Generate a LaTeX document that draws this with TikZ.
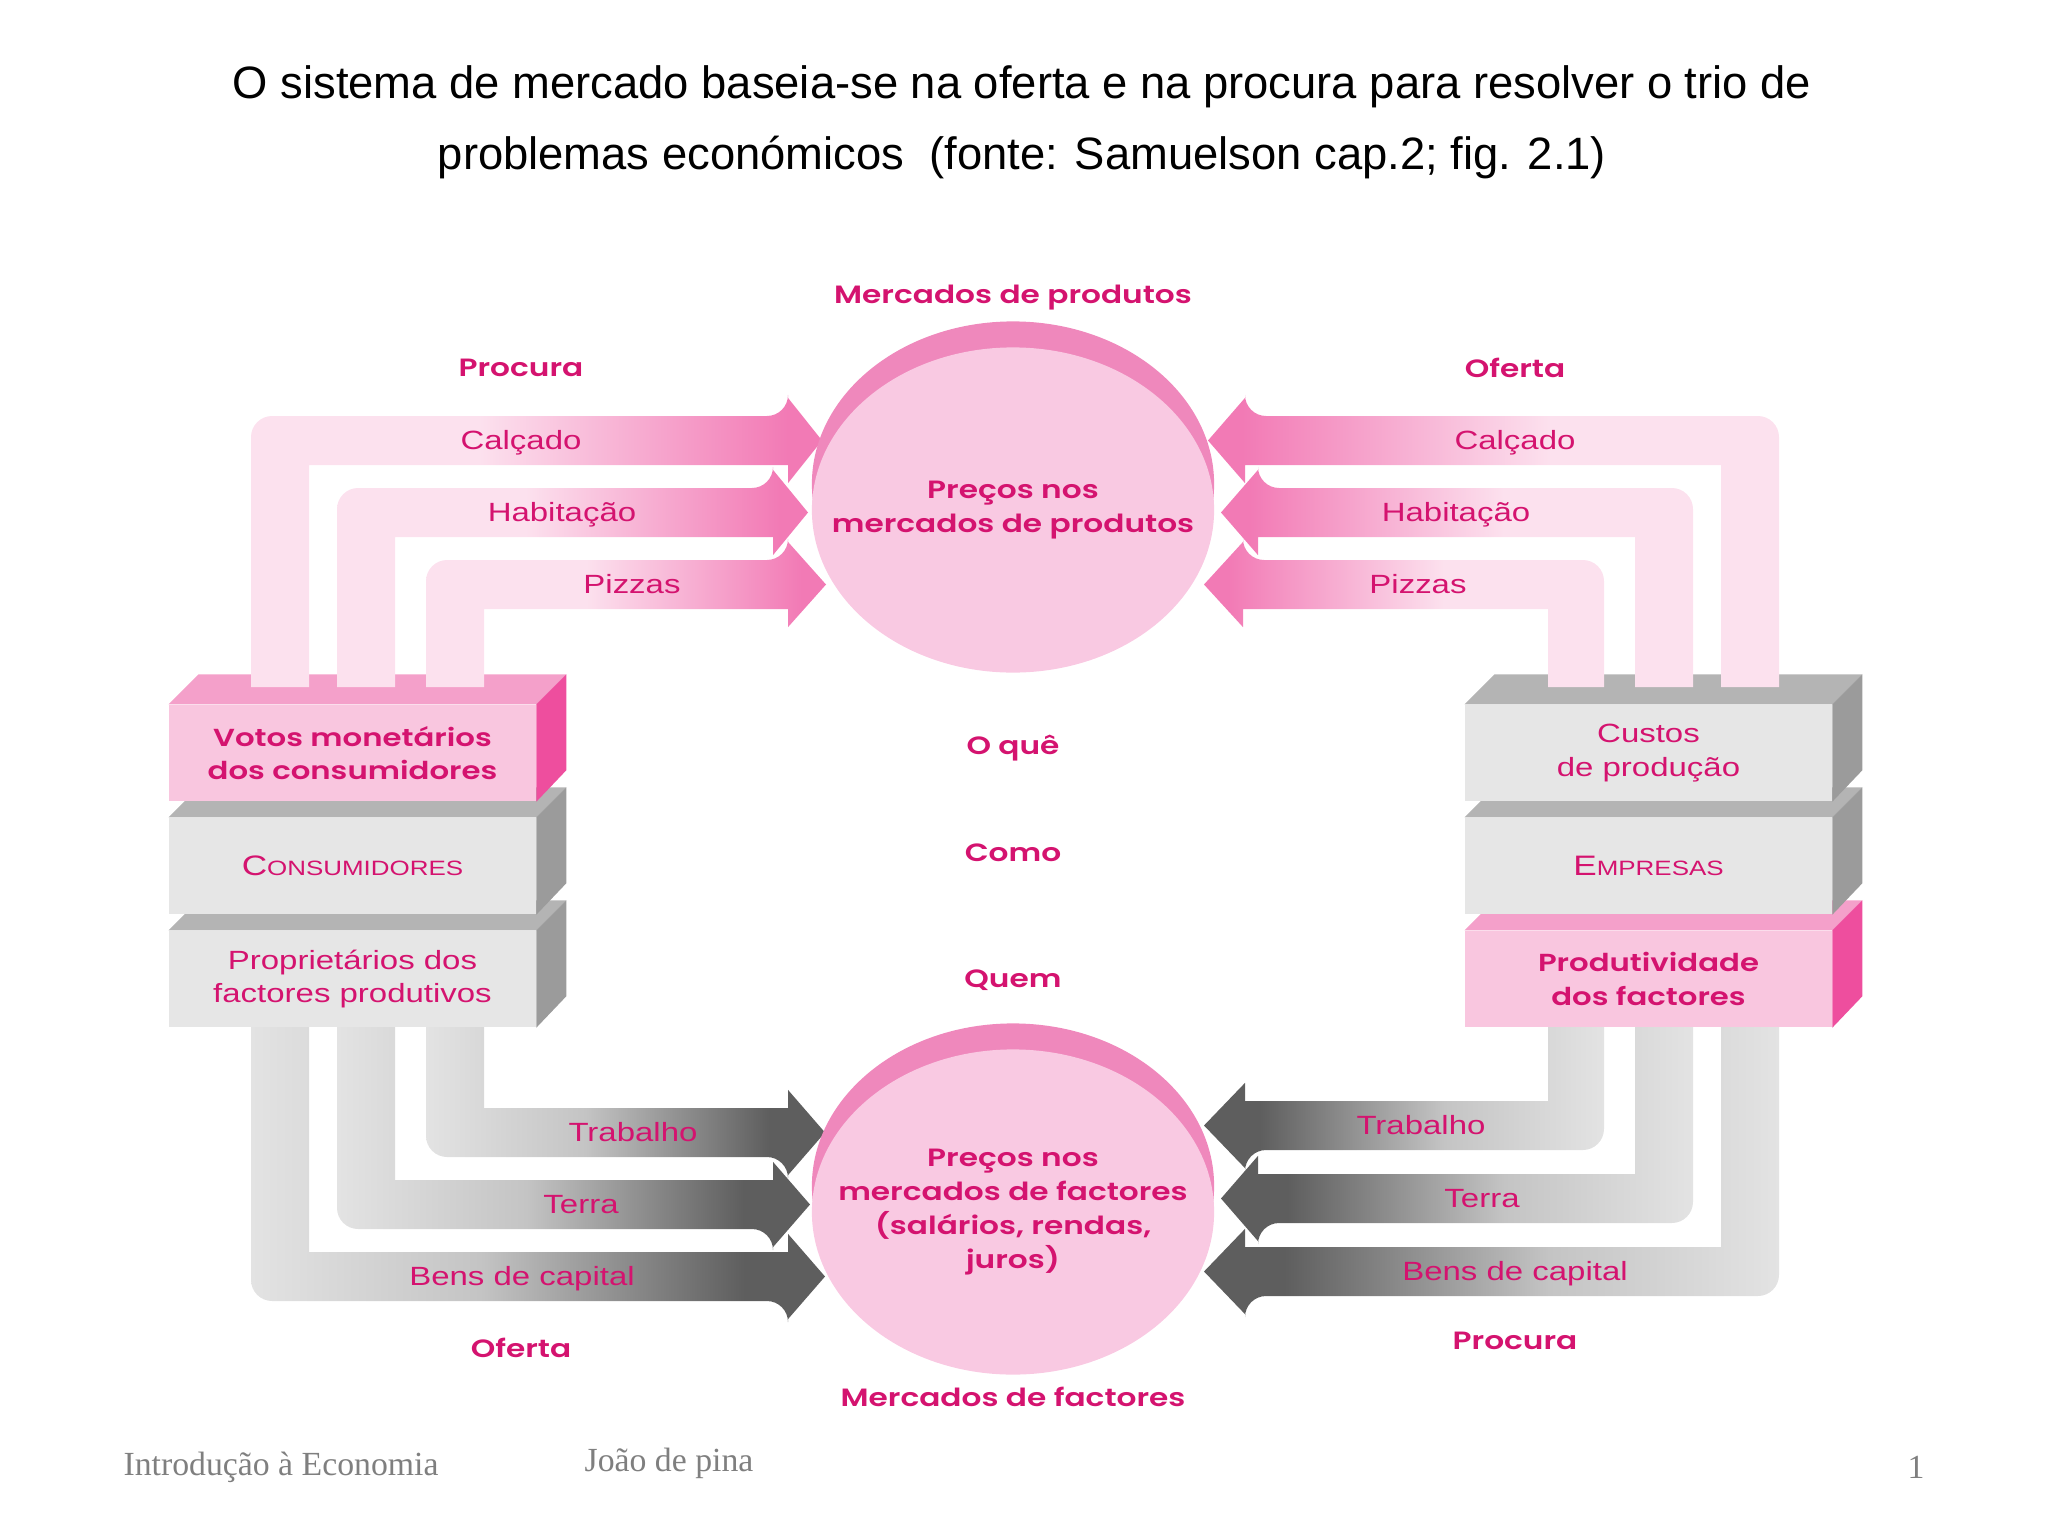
\documentclass[tikz,border=0pt]{standalone}
\usepackage{fontspec}
\usetikzlibrary{shapes.geometric}
\newfontfamily\geofont{Poppins}[FakeStretch=1.25, BoldFont={* SemiBold}]
\newfontfamily\helvfont{Liberation Sans}[FakeStretch=1.25]
\newfontfamily\titlefont{Liberation Sans}
\newfontfamily\footfont{Liberation Serif}
\definecolor{magtext}{HTML}{D4136F}
\definecolor{flowlight}{HTML}{FCE1EE}
\definecolor{flowdark}{HTML}{F27AB5}
\definecolor{graylight}{HTML}{E3E3E3}
\definecolor{graymid}{HTML}{C4C4C4}
\definecolor{graydark}{HTML}{5E5E5E}
\definecolor{pinkfront}{HTML}{F9C6DF}
\definecolor{pinktop}{HTML}{F4A0CA}
\definecolor{pinkside}{HTML}{EE4E9E}
\definecolor{grayfront}{HTML}{E6E6E6}
\definecolor{graytop}{HTML}{B4B4B4}
\definecolor{grayside}{HTML}{9B9B9B}
\definecolor{mktface}{HTML}{F9C9E2}
\definecolor{rimlight}{HTML}{F6B8D7}
\definecolor{rimdark}{HTML}{EF88BC}
\definecolor{footgray}{HTML}{7F7F7F}
\pgfdeclarehorizontalshading{pinkshade}{100bp}{color(0bp)=(flowlight); color(25bp)=(flowlight); color(45bp)=(flowlight); color(72bp)=(flowdark); color(100bp)=(flowdark)}
\pgfdeclarehorizontalshading{grayshade}{100bp}{color(0bp)=(graylight); color(25bp)=(graylight); color(45bp)=(graymid); color(68bp)=(graydark); color(100bp)=(graydark)}
% L-shaped flow: style, outer x, inner x, end y, outer y, inner y, head x, tip x
\newcommand{\flowarrow}[8]{%
  \shade[#1] (#2,#4) [rounded corners=6pt] -- (#2,#5) -- (#7,#5) [sharp corners]
    -- (#7,{#5+(#5-#6)*.37}) -- (#8,{(#5+#6)/2}) -- (#7,{#6+(#6-#5)*.37})
    -- (#7,#6) -- (#3,#6) -- (#3,#4) -- cycle;}
% top and side faces of a slab
\newcommand{\slabfaces}[3]{%
  \fill[#2] (#1.north west) -- ++(30,-30) -- ([shift={(30,-30)}]#1.north east) -- (#1.north east) -- cycle;
  \fill[#3] (#1.north east) -- ++(30,-30) -- ++(0,96) -- (#1.south east) -- cycle;}
\tikzset{
  blabel/.style={text=magtext, font=\geofont\bfseries\fontsize{7.1}{9.6}\selectfont, align=center, inner sep=0pt},
  flabel/.style={text=magtext, font=\helvfont\fontsize{7.5}{9.6}\selectfont, inner sep=0pt, text height=1.6ex, text depth=.4ex},
  slab/.style={minimum width=3.66cm, minimum height=0.96cm, inner sep=0pt, align=center, text=magtext},
  pinkslab/.style={slab, fill=pinkfront, font=\geofont\bfseries\fontsize{7.0}{9.6}\selectfont},
  grayslab/.style={slab, fill=grayfront, font=\helvfont\fontsize{7.5}{9.6}\selectfont},
  rim/.style={ellipse, minimum width=4.02cm, minimum height=3.25cm, inner sep=0pt, left color=rimdark, middle color=rimlight, right color=rimdark},
  market/.style={ellipse, minimum width=4.02cm, minimum height=3.25cm, inner sep=0pt, fill=mktface},
  pinkflow/.style={shading=pinkshade},
  grayflow/.style={shading=grayshade},
  foot/.style={font=\footfont\fontsize{9.6}{11}\selectfont, text=footgray, inner sep=0pt},
}
\begin{document}
\begin{tikzpicture}[x=0.01cm, y=-0.01cm]
\useasboundingbox (0,0) rectangle (2048,1536);
\node[font=\titlefont\fontsize{12.9}{20.1}\selectfont, align=center] (title) at (1022,122)
  {O sistema de mercado baseia-se na oferta e na procura para resolver o trio de\\problemas económicos~ (fonte: Samuelson cap.2; fig. 2.1)};

% factor flows
\flowarrow{grayflow}{426}{484}{1020}{1157}{1108}{788}{825}
\flowarrow{grayflow}{337}{395}{1020}{1229}{1180}{773}{810}
\flowarrow{grayflow}{251}{309}{1020}{1301}{1252}{788}{825}
\flowarrow{grayflow, shading angle=180}{1604}{1548}{1020}{1150}{1101}{1245}{1204}
\flowarrow{grayflow, shading angle=180}{1693}{1635}{1020}{1223}{1174}{1258}{1221}
\flowarrow{grayflow, shading angle=180}{1779}{1721}{1020}{1296}{1247}{1245}{1204}

% households
\node[grayslab] (owners) at (352.5,979) {Proprietários dos\\factores produtivos};
\slabfaces{owners}{graytop}{grayside}
\node[grayslab] (consumers) at (352.5,866) {{\fontsize{8}{9.6}\selectfont C}{\fontsize{5.9}{9.6}\selectfont ONSUMIDORES}};
\slabfaces{consumers}{graytop}{grayside}
\node[pinkslab] (votes) at (352.5,753) {Votos monetários\\dos consumidores};
\slabfaces{votes}{pinktop}{pinkside}

% firms
\node[pinkslab] (productivity) at (1648.5,979) {Produtividade\\dos factores};
\slabfaces{productivity}{pinktop}{pinkside}
\node[grayslab] (firms) at (1648.5,866) {{\fontsize{8}{9.6}\selectfont E}{\fontsize{5.9}{9.6}\selectfont MPRESAS}};
\slabfaces{firms}{graytop}{grayside}
\node[grayslab] (costs) at (1648.5,753) {Custos\\de produção};
\slabfaces{costs}{graytop}{grayside}

% product flows
\flowarrow{pinkflow}{251}{309}{687}{416}{465}{788}{822}
\flowarrow{pinkflow}{337}{395}{687}{488}{537}{773}{808}
\flowarrow{pinkflow}{426}{484}{687}{560}{609}{788}{826}
\flowarrow{pinkflow, shading angle=180}{1779}{1721}{687}{416}{465}{1245}{1208}
\flowarrow{pinkflow, shading angle=180}{1693}{1635}{687}{488}{537}{1258}{1221}
\flowarrow{pinkflow, shading angle=180}{1604}{1548}{687}{560}{609}{1243}{1204}

% markets
\node[rim] (prodrim) at (1013,484) {};
\node[market] (prodmkt) at (1013,510) {};
\node[blabel] (prodprice) at (prodmkt) {Preços nos\\mercados de produtos};
\node[rim] (factrim) at (1013,1186) {};
\node[market] (factmkt) at (1013,1212) {};
\node[blabel] (factprice) at (factmkt) {Preços nos\\mercados de factores\\(salários, rendas,\\juros)};

\node[blabel] (prodtitle) at (1013,298) {Mercados de produtos};
\node[blabel] (facttitle) at (1013,1397) {Mercados de factores};
\node[blabel] (demtop) at (521,368) {Procura};
\node[blabel] (suptop) at (1515,368) {Oferta};
\node[blabel] (supbot) at (521,1348) {Oferta};
\node[blabel] (dembot) at (1515,1341) {Procura};
\node[blabel] (what) at (1013,748) {O quê};
\node[blabel] (how) at (1013,853) {Como};
\node[blabel] (whom) at (1013,980) {Quem};

\node[flabel] (shoesl) at (521,440) {Calçado};
\node[flabel] (housel) at (562,512) {Habitação};
\node[flabel] (pizzal) at (632,584) {Pizzas};
\node[flabel] (shoesr) at (1515,440) {Calçado};
\node[flabel] (houser) at (1456,512) {Habitação};
\node[flabel] (pizzar) at (1418,584) {Pizzas};
\node[flabel] (labourl) at (633,1132) {Trabalho};
\node[flabel] (landl) at (581,1204) {Terra};
\node[flabel] (capitall) at (522,1276) {Bens de capital};
\node[flabel] (labourr) at (1421,1125) {Trabalho};
\node[flabel] (landr) at (1482,1198) {Terra};
\node[flabel] (capitalr) at (1515,1271) {Bens de capital};

% footer
\node[foot] (course) at (281,1467) {Introdução à Economia};
\node[foot] (author) at (669,1463) {João de pina};
\node[foot] (page) at (1916,1467) {1};
\end{tikzpicture}
\end{document}
